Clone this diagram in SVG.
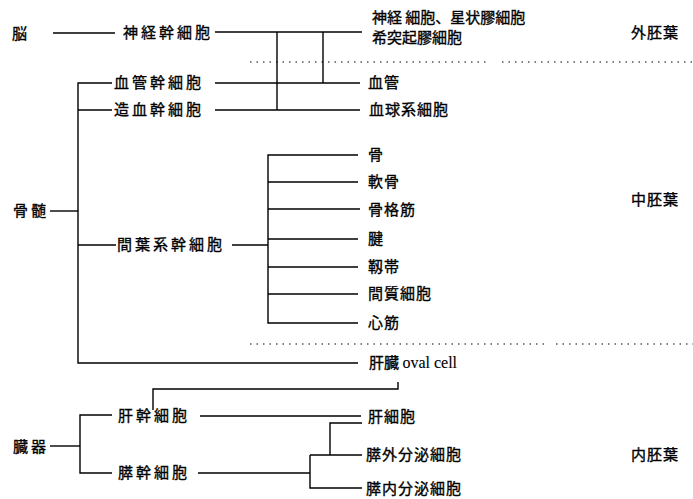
<svg xmlns="http://www.w3.org/2000/svg" width="693" height="499" viewBox="0 0 693 499">
<style>
text{font-family:"Noto Sans CJK JP","Noto Sans CJK SC",sans-serif;font-size:15px;fill:#000;stroke:#000;stroke-width:0.35}
.w{letter-spacing:3px}
.n{letter-spacing:1px}
.en{font-family:"Liberation Serif",serif;font-size:16px;stroke-width:0.1}
.c line,.c polyline{stroke:#000;stroke-width:1.4;fill:none}
.d line{stroke:#000;stroke-width:1.2;stroke-dasharray:1.5 5}
</style>
<rect width="693" height="499" fill="#fff"/>
<g class="d" id="dividers">
<line x1="250" y1="62" x2="490" y2="62"/>
<line x1="502" y1="62" x2="693" y2="62"/>
<line x1="250" y1="344" x2="546" y2="344"/>
<line x1="556" y1="344" x2="693" y2="344"/>
</g>
<g class="c" id="connectors">
<line x1="53" y1="33" x2="115" y2="33"/>
<line x1="215" y1="32" x2="362" y2="32"/>
<line x1="277" y1="32" x2="277" y2="110"/>
<line x1="323" y1="32" x2="323" y2="83"/>
<line x1="215" y1="83" x2="360" y2="83"/>
<line x1="215" y1="110" x2="360" y2="110"/>
<polyline points="112,83 78,83 78,363 358,363"/>
<line x1="78" y1="110" x2="112" y2="110"/>
<line x1="50" y1="211" x2="78" y2="211"/>
<line x1="78" y1="245" x2="116" y2="245"/>
<line x1="232" y1="245" x2="268" y2="245"/>
<polyline points="358,155 268,155 268,323 358,323"/>
<line x1="268" y1="182" x2="358" y2="182"/>
<line x1="268" y1="209" x2="360" y2="209"/>
<line x1="268" y1="239" x2="358" y2="239"/>
<line x1="268" y1="267" x2="358" y2="267"/>
<line x1="268" y1="294" x2="358" y2="294"/>
<polyline points="153,410 153,389 398,389 398,382"/>
<line x1="50" y1="446" x2="80" y2="446"/>
<polyline points="112,415 80,415 80,473 112,473"/>
<line x1="200" y1="416" x2="361" y2="416"/>
<line x1="198" y1="473" x2="310" y2="473"/>
<polyline points="310,455 310,488 362,488"/>
<line x1="310" y1="455" x2="362" y2="455"/>
<polyline points="330,455 330,423 362,423"/>
</g>
<g id="n-brain"><text x="12" y="39">脳</text></g>
<g id="n-neural"><text class="w" x="123" y="38">神経幹細胞</text></g>
<g id="n-neuron"><text x="372" y="23">神経 細胞、星状膠細胞</text><text x="372" y="43">希突起膠細胞</text></g>
<g id="n-ecto"><text class="n" x="631" y="38">外胚葉</text></g>
<g id="n-vsc"><text class="w" x="114" y="88">血管幹細胞</text></g>
<g id="n-vessel"><text class="n" x="368" y="88">血管</text></g>
<g id="n-hsc"><text class="w" x="114" y="115">造血幹細胞</text></g>
<g id="n-blood"><text class="n" x="369" y="115">血球系細胞</text></g>
<g id="n-marrow"><text class="w" x="13" y="216">骨髄</text></g>
<g id="n-msc"><text class="w" x="117" y="250">間葉系幹細胞</text></g>
<g id="n-bone"><text x="368" y="160">骨</text></g>
<g id="n-cart"><text class="n" x="368" y="187">軟骨</text></g>
<g id="n-skm"><text class="n" x="368" y="215">骨格筋</text></g>
<g id="n-tendon"><text x="368" y="244">腱</text></g>
<g id="n-lig"><text class="n" x="368" y="272">靱帯</text></g>
<g id="n-stroma"><text class="n" x="368" y="299">間質細胞</text></g>
<g id="n-heart"><text class="n" x="368" y="328">心筋</text></g>
<g id="n-meso"><text class="n" x="631" y="205">中胚葉</text></g>
<g id="n-oval"><text x="369" y="368">肝臓 <tspan class="en">oval cell</tspan></text></g>
<g id="n-organ"><text class="w" x="13" y="452">臓器</text></g>
<g id="n-lsc"><text class="w" x="118" y="421">肝幹細胞</text></g>
<g id="n-hep"><text class="n" x="368" y="422">肝細胞</text></g>
<g id="n-psc"><text class="w" x="118" y="478">膵幹細胞</text></g>
<g id="n-exo"><text class="n" x="366" y="460">膵外分泌細胞</text></g>
<g id="n-endo"><text class="n" x="366" y="494">膵内分泌細胞</text></g>
<g id="n-endoderm"><text class="n" x="631" y="460">内胚葉</text></g>
</svg>
